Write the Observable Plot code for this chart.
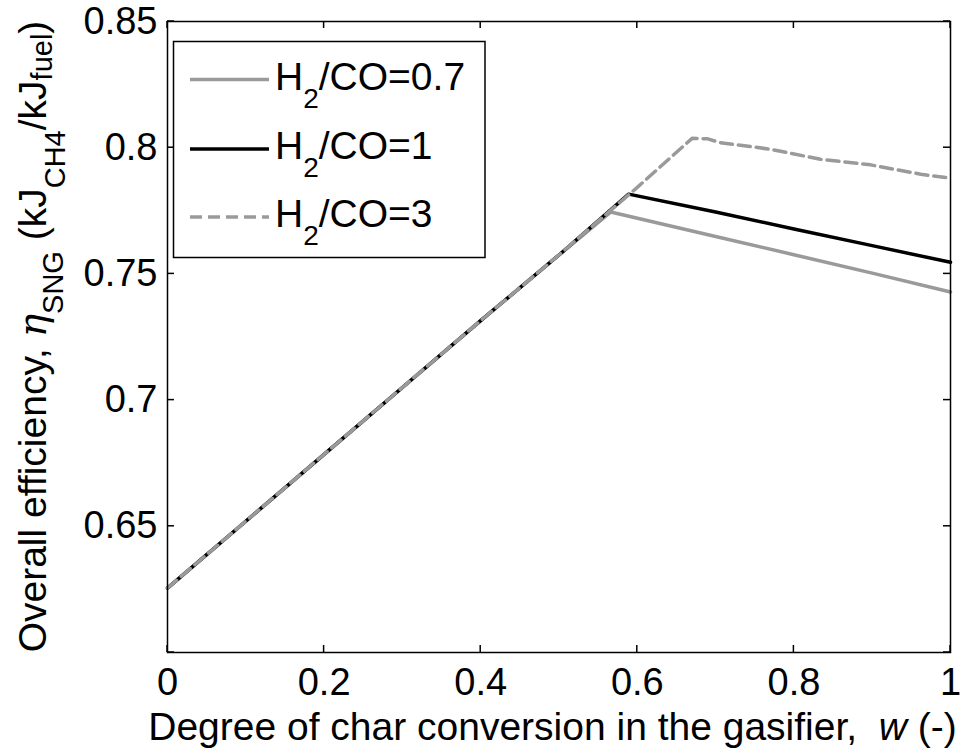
<!DOCTYPE html>
<html>
<head>
<meta charset="utf-8">
<script src="https://cdn.jsdelivr.net/npm/d3@7"></script>
<script src="https://cdn.jsdelivr.net/npm/@observablehq/plot@0.6"></script>
<style>
  html, body { margin: 0; padding: 0; background: #fff; }
  #chart { width: 961px; height: 755px; }
</style>
</head>
<body>
<div id="chart"></div>
<script>
// ---- data ----
const seriesLabels = ["0.7", "1", "3"];           // H2/CO ratios
const xTicks = [0, 0.2, 0.4, 0.6, 0.8, 1];
const yTicks = [0.65, 0.7, 0.75, 0.8, 0.85];
const yTickMarks = [0.6, 0.65, 0.7, 0.75, 0.8, 0.85];
const xDomain = [0, 1];
const yDomain = [0.6, 0.85];

// H2/CO = 0.7
const w07   = [0, 0.1, 0.2, 0.3, 0.4, 0.5, 0.566, 0.7, 0.8, 0.9, 1.0];
const eta07 = [0.6255, 0.652, 0.6785, 0.705, 0.7315, 0.7575, 0.7745, 0.7648, 0.7576, 0.7503, 0.7428];
// H2/CO = 1
const w1    = [0, 0.1, 0.2, 0.3, 0.4, 0.5, 0.589, 0.7, 0.8, 0.9, 1.0];
const eta1  = [0.6255, 0.652, 0.6785, 0.705, 0.7315, 0.7575, 0.7816, 0.7745, 0.7678, 0.7612, 0.7546];
// H2/CO = 3
const w3    = [0, 0.1, 0.2, 0.3, 0.4, 0.5, 0.6, 0.67, 0.69, 0.706, 0.77, 0.834, 0.898, 0.962, 1.0];
const eta3  = [0.6255, 0.652, 0.6785, 0.705, 0.7315, 0.7575, 0.7843, 0.8037, 0.8035, 0.802, 0.7994, 0.7954, 0.7932, 0.7895, 0.7879];

const colors = ["#9a9a9a", "#000000", "#9a9a9a"];
const dashes = [null, null, "12,6"];

const toRows = (ws, es, k) => ws.map((w, i) => ({w, eta: es[i], k}));
const rows = [toRows(w07, eta07, 0), toRows(w1, eta1, 1), toRows(w3, eta3, 2)];

const FONT = '"Liberation Sans", Arial, Helvetica, sans-serif';
const W = 961, H = 755;
const mL = 167, mR = 11, mT = 21, mB = 103;
const TICK = 7;

const plot = Plot.plot({
  width: W, height: H,
  marginLeft: mL, marginRight: mR, marginTop: mT, marginBottom: mB,
  style: {fontFamily: FONT, fontSize: "38px", background: "#fff", color: "#000", overflow: "visible"},
  x: {domain: xDomain, ticks: xTicks},
  y: {domain: yDomain, ticks: yTicks},
  marks: [
    ...rows.map((r, i) => Plot.line(r, {
      x: "w", y: "eta", stroke: colors[i], strokeWidth: 3.5,
      strokeDasharray: dashes[i], strokeLinejoin: "round", curve: "linear"
    })),
    Plot.axisX(xTicks, {anchor: "bottom", tickSize: 0, tickPadding: 16, label: null, tickFormat: d => String(d)}),
    Plot.axisY(yTicks, {anchor: "left", tickSize: 0, tickPadding: 10, label: null, tickFormat: d => String(d)}),
    Plot.frame({stroke: "#000", strokeWidth: 1.5})
  ]
});

document.getElementById("chart").appendChild(plot);

const svg = d3.select(plot);
const xs = plot.scale("x"), ys = plot.scale("y");
const x0 = xs.apply(xDomain[0]), x1 = xs.apply(xDomain[1]);
const y0 = ys.apply(yDomain[0]), y1 = ys.apply(yDomain[1]);
const cx = (x0 + x1) / 2, cy = (y0 + y1) / 2;

// inward tick marks on all four sides, positioned through Plot's scales
const tg = svg.append("g").attr("stroke", "#000").attr("stroke-width", 1.5).attr("fill", "none");
xTicks.forEach(t => {
  const px = xs.apply(t);
  tg.append("line").attr("x1", px).attr("x2", px).attr("y1", y0).attr("y2", y0 - TICK);
  tg.append("line").attr("x1", px).attr("x2", px).attr("y1", y1).attr("y2", y1 + TICK);
});
yTickMarks.forEach(t => {
  const py = ys.apply(t);
  tg.append("line").attr("x1", x0).attr("x2", x0 + TICK).attr("y1", py).attr("y2", py);
  tg.append("line").attr("x1", x1).attr("x2", x1 - TICK).attr("y1", py).attr("y2", py);
});

// x-axis label
const xl = svg.append("text")
  .attr("x", cx - 6).attr("y", 740)
  .attr("text-anchor", "middle")
  .attr("font-family", FONT).attr("font-size", 39).attr("fill", "#000");
xl.append("tspan").text("Degree of char conversion in the gasifier,\u00A0\u00A0");
xl.append("tspan").attr("font-style", "italic").text("w");
xl.append("tspan").text("\u00A0(-)");

// y-axis label (rotated, with subscripts)
const yl = svg.append("text")
  .attr("transform", `translate(46,${cy}) rotate(-90)`)
  .attr("text-anchor", "middle")
  .attr("font-family", FONT).attr("font-size", 39).attr("fill", "#000");
yl.append("tspan").text("Overall efficiency,\u00A0");
yl.append("tspan").attr("font-style", "italic").attr("font-family", '"DejaVu Serif", serif').text("\u03B7");
yl.append("tspan").attr("font-size", 29).attr("dy", 17).text("SNG");
yl.append("tspan").attr("dy", -17).text("\u00A0(kJ");
yl.append("tspan").attr("font-size", 29).attr("dy", 19).text("CH4");
yl.append("tspan").attr("dy", -19).text("/kJ");
yl.append("tspan").attr("font-size", 29).attr("dy", 6).text("fuel");
yl.append("tspan").attr("dy", -6).text(")");

// legend
const lg = svg.append("g");
lg.append("rect")
  .attr("x", 173.5).attr("y", 41.5).attr("width", 311.5).attr("height", 216)
  .attr("fill", "#fff").attr("stroke", "#000").attr("stroke-width", 1.5);
const legY = [79.5, 149, 217];
seriesLabels.forEach((lab, i) => {
  lg.append("line")
    .attr("x1", 190).attr("x2", 269).attr("y1", legY[i]).attr("y2", legY[i])
    .attr("stroke", colors[i]).attr("stroke-width", 3.5)
    .attr("stroke-dasharray", dashes[i]);
  const t = lg.append("text")
    .attr("x", 275).attr("y", legY[i] + 10)
    .attr("text-anchor", "start")
    .attr("font-family", FONT).attr("font-size", 39).attr("fill", "#000");
  t.append("tspan").text("H");
  t.append("tspan").attr("font-size", 28).attr("dy", 18).text("2");
  t.append("tspan").attr("dy", -18).text("/CO=" + lab);
});
</script>
</body>
</html>
